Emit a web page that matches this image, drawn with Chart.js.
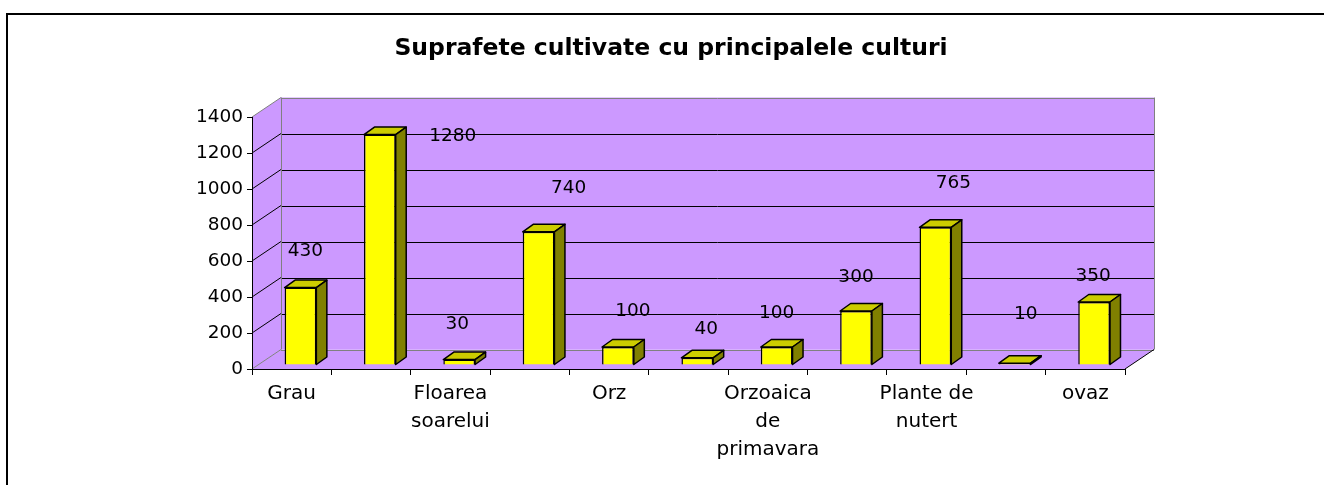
<!DOCTYPE html>
<html>
<head>
<meta charset="utf-8">
<script src="https://cdn.jsdelivr.net/npm/chart.js@4.4.0/dist/chart.umd.min.js"></script>
<style>
  body { margin: 0; background: #fff; }
  #wrap { position: relative; width: 1324px; height: 485px; overflow: hidden; }
  #frame { position: absolute; left: 6px; top: 13px; width: 1400px; height: 600px; border-left: 2px solid #000; border-top: 2px solid #000; }
  canvas { position: absolute; left: 0; top: 0; }
</style>
</head>
<body>
<div id="wrap">
  <div id="frame"></div>
  <canvas id="culturiChart" width="1324" height="485"></canvas>
</div>
<script>
// date
const categories = ['Grau', '', ['Floarea', 'soarelui'], '', 'Orz', '', ['Orzoaica', 'de', 'primavara'], '', ['Plante de', 'nutert'], '', 'ovaz']
const suprafete = [430, 1280, 30, 740, 100, 40, 100, 300, 765, 10, 350]
const yTicks = [0, 200, 400, 600, 800, 1000, 1200, 1400]

// stil 3D (ca in Excel)
const WALL = '#CC99FF'
const DEPTH = {x: 29, y: -19.5}      // adancimea peretelui din spate
const BAR_FRONT = {x: 8.8, y: -4}    // fata barei fata de axa
const BAR_DEPTH = {x: 10.5, y: -7.5} // grosimea barei
// etichetele din Excel nu stau exact deasupra barelor
const labelNudge = [[5, -36], [73, 2], [-2, -35], [30, -44], [15, -36], [9, -29], [0, -34], [0, -34], [18, -44], [11, -49], [-1, -26]]
const FONT = '"DejaVu Sans", sans-serif'

function poly(ctx, pts) {
    ctx.beginPath()
    pts.forEach((p, i) => i == 0 ? ctx.moveTo(p[0], p[1]) : ctx.lineTo(p[0], p[1]))
    ctx.closePath()
}

const box3d = {
    id: 'box3d',
    beforeDraw(chart) {
        const {ctx, chartArea, scales} = chart
        const y = scales.y
        const L = chartArea.left, R = chartArea.right
        const T = y.getPixelForValue(yTicks[yTicks.length - 1]), B = y.getPixelForValue(0)
        const dx = DEPTH.x, dy = DEPTH.y
        ctx.save()
        ctx.fillStyle = WALL
        poly(ctx, [[L, B], [R, B], [R + dx, B + dy], [L + dx, B + dy]])
        ctx.fill()
        poly(ctx, [[L, B], [L + dx, B + dy], [L + dx, T + dy], [L, T]])
        ctx.fill()
        ctx.fillRect(L + dx, T + dy, R - L, B - T)
        ctx.lineWidth = 1
        // linii de grila pe peretele din spate si pe cel lateral
        yTicks.forEach(v => {
            const py = y.getPixelForValue(v)
            const edge = (v == 0 || v == yTicks[yTicks.length - 1])
            ctx.strokeStyle = edge ? '#808080' : '#000'
            ctx.beginPath()
            ctx.moveTo(L, py)
            ctx.lineTo(L + dx, py + dy)
            ctx.moveTo(L + dx, Math.round(py + dy) + 0.5)
            ctx.lineTo(R + dx, Math.round(py + dy) + 0.5)
            ctx.stroke()
        })
        // marginile peretilor
        ctx.strokeStyle = '#808080'
        ctx.beginPath()
        ctx.moveTo(Math.round(L + dx) + 0.5, T + dy)
        ctx.lineTo(Math.round(L + dx) + 0.5, B + dy)
        ctx.moveTo(Math.round(R + dx) + 0.5, T + dy)
        ctx.lineTo(Math.round(R + dx) + 0.5, B + dy)
        ctx.stroke()
        ctx.strokeStyle = '#000'
        ctx.beginPath()
        ctx.moveTo(R, B)
        ctx.lineTo(R + dx, B + dy)
        ctx.stroke()
        ctx.restore()
    },
    beforeDatasetsDraw(chart) {
        chart.ctx.save()
        chart.ctx.translate(BAR_FRONT.x, BAR_FRONT.y)
    },
    afterDatasetsDraw(chart) {
        const ctx = chart.ctx
        ctx.restore()
        const meta = chart.getDatasetMeta(0)
        ctx.save()
        ctx.lineWidth = 1.5
        ctx.lineJoin = 'round'
        ctx.strokeStyle = '#000'
        meta.data.forEach((bar, i) => {
            const {x, y, base, width} = bar.getProps(['x', 'y', 'base', 'width'], true)
            const l = x - width / 2 + BAR_FRONT.x, r = x + width / 2 + BAR_FRONT.x
            const t = y + BAR_FRONT.y, b = base + BAR_FRONT.y
            const bx = BAR_DEPTH.x, by = BAR_DEPTH.y
            ctx.fillStyle = '#CCCC00'
            poly(ctx, [[l, t], [r, t], [r + bx, t + by], [l + bx, t + by]])
            ctx.fill()
            ctx.stroke()
            ctx.fillStyle = '#808000'
            poly(ctx, [[r, t], [r + bx, t + by], [r + bx, b + by], [r, b]])
            ctx.fill()
            ctx.stroke()
        })
        // etichete cu valori
        ctx.fillStyle = '#000'
        ctx.font = '18.5px ' + FONT
        ctx.textAlign = 'center'
        ctx.textBaseline = 'middle'
        meta.data.forEach((bar, i) => {
            const {x, y} = bar.getProps(['x', 'y'], true)
            ctx.fillText(String(suprafete[i]), x + BAR_FRONT.x + labelNudge[i][0], y + BAR_FRONT.y + labelNudge[i][1])
        })
        ctx.restore()
    }
}

new Chart('culturiChart', {
    type: 'bar',
    data: {
        labels: categories,
        datasets: [{
            label: 'Suprafete',
            data: suprafete,
            backgroundColor: '#FFFF00',
            borderColor: '#000',
            borderWidth: 1.5,
            barPercentage: 0.4,
            categoryPercentage: 1,
        }]
    },
    options: {
        responsive: false,
        devicePixelRatio: 1,
        animation: false,
        layout: {
            padding: {left: 18, right: 0, top: 0, bottom: 0}
        },
        plugins: {
            legend: {display: false},
            tooltip: {enabled: false},
            title: {
                display: true,
                text: 'Suprafete cultivate cu principalele culturi',
                color: '#000',
                font: {family: FONT, size: 23.5, weight: 'bold'},
                padding: {top: 35, bottom: 53.8},
            },
        },
        scales: {
            x: {
                offset: true,
                grid: {offset: true, drawOnChartArea: false, color: '#000', tickLength: 6},
                border: {color: '#000', width: 1},
                ticks: {
                    autoSkip: false,
                    maxRotation: 0,
                    color: '#000',
                    padding: 4.5,
                    font: {family: FONT, size: 20, lineHeight: 1.4},
                },
                afterFit(scale) { scale.height = 116 },
            },
            y: {
                min: 0,
                max: 1400,
                grid: {drawOnChartArea: false, color: '#000', tickLength: 5},
                border: {color: '#000', width: 1},
                ticks: {
                    stepSize: 200,
                    color: '#000',
                    padding: 4,
                    font: {family: FONT, size: 18.5},
                    callback: v => String(v),
                },
                afterFit(scale) { scale.width = 234 },
            },
            // doar ca sa lase loc in dreapta, ca in original
            spatiu: {
                type: 'linear',
                position: 'right',
                display: true,
                grid: {display: false},
                border: {display: false},
                ticks: {display: false},
                afterFit(scale) { scale.width = 199 },
            },
        },
    },
    plugins: [box3d],
})
</script>
</body>
</html>
